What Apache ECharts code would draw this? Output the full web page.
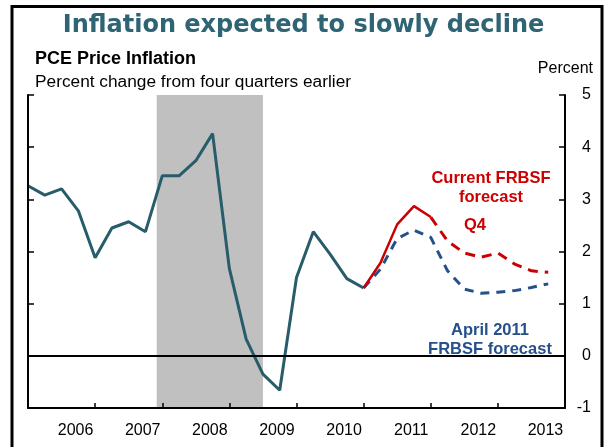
<!DOCTYPE html>
<html>
<head>
<meta charset="utf-8">
<title>Inflation expected to slowly decline</title>
<script src="https://cdn.jsdelivr.net/npm/echarts@6/dist/echarts.min.js"></script>
<style>
  html, body { margin: 0; padding: 0; background: #fff; }
  #chart { width: 607px; height: 447px; }
</style>
</head>
<body>
<div id="chart"></div>
<script>
// quarterly axis, 2005Q4 .. 2013Q4
const quarters = []
for (let y = 2005; y <= 2013; y++) {
  for (let q = 1; q <= 4; q++) {
    if (y === 2005 && q < 4) continue
    quarters.push(y + 'Q' + q)
  }
}
const years = ['2006', '2007', '2008', '2009', '2010', '2011', '2012', '2013']

// PCE price inflation, percent change from four quarters earlier
const historyStart = '2005Q4'
const history = [3.26, 3.08, 3.20, 2.78, 1.88, 2.45, 2.57, 2.38, 3.45, 3.45, 3.74, 4.26,
  1.67, 0.32, -0.35, -0.66, 1.50, 2.38, 1.95, 1.48, 1.30]

// current FRBSF forecast (solid part, then dashed part)
const currentSolidStart = '2010Q4'
const currentSolid = [1.30, 1.78, 2.52, 2.87, 2.66]
const currentDashStart = '2011Q4'
const currentDash = [2.66, 2.20, 1.97, 1.89, 1.97, 1.76, 1.63, 1.60]

// April 2011 FRBSF forecast
const aprilStart = '2010Q4'
const april = [1.30, 1.66, 2.25, 2.41, 2.27, 1.63, 1.28, 1.20, 1.22, 1.25, 1.31, 1.38]

// recession shading, in quarter-index units
const recession = [7.67, 14.0]

function toPairs (start, vals) {
  const i0 = quarters.indexOf(start)
  return vals.map((v, i) => [i0 + i, v])
}

const chart = echarts.init(document.getElementById('chart'))

const axisBlack = { show: true, onZero: false, lineStyle: { color: '#000', width: 2 } }

chart.setOption({
  animation: false,
  backgroundColor: '#fff',
  title: {
    text: 'Inflation expected to slowly decline',
    left: 'center',
    top: 9,
    textStyle: {
      fontFamily: 'DejaVu Sans',
      fontWeight: 'bold',
      fontSize: 24,
      color: '#2E6474'
    }
  },
  grid: { left: 28, right: 42, top: 95, bottom: 39, containLabel: false },
  xAxis: [{
    type: 'value',
    min: 0,
    max: quarters.length - 1,
    interval: 4,
    z: 5,
    axisLine: axisBlack,
    axisTick: { show: true, inside: true, length: 5, lineStyle: { color: '#000', width: 1.5 } },
    axisLabel: { show: false },
    splitLine: { show: false }
  }, {
    type: 'category',
    data: years,
    boundaryGap: true,
    position: 'bottom',
    axisLine: { show: false },
    axisTick: { show: false },
    axisLabel: {
      color: '#000',
      fontFamily: 'Liberation Sans',
      fontSize: 16,
      margin: 15,
      padding: [0, 0, 0, 28]
    },
    splitLine: { show: false }
  }],
  yAxis: [{
    type: 'value',
    min: -1,
    max: 5,
    interval: 1,
    position: 'left',
    z: 5,
    axisLine: axisBlack,
    axisTick: { show: true, inside: true, length: 6, lineStyle: { color: '#000', width: 1.5 } },
    axisLabel: { show: false },
    splitLine: { show: false }
  }, {
    type: 'value',
    min: -1,
    max: 5,
    interval: 1,
    position: 'right',
    z: 5,
    axisLine: axisBlack,
    axisTick: { show: true, inside: true, length: 6, lineStyle: { color: '#000', width: 1.5 } },
    axisLabel: {
      color: '#000',
      fontFamily: 'Liberation Sans',
      fontSize: 16,
      align: 'right',
      margin: 26
    },
    splitLine: { show: false }
  }],
  graphic: [
    {
      type: 'rect',
      shape: { x: 12, y: 6.5, width: 590, height: 460 },
      style: { fill: 'none', stroke: '#000', lineWidth: 3 },
      silent: true
    },
    {
      type: 'text', left: 35, top: 50,
      style: { text: 'PCE Price Inflation', font: 'bold 18px "Liberation Sans"', fill: '#000' }
    },
    {
      type: 'text', left: 35, top: 74,
      style: { text: 'Percent change from four quarters earlier', font: '17.3px "Liberation Sans"', fill: '#000' }
    },
    {
      type: 'text', right: 14, top: 61,
      style: { text: 'Percent', font: '16px "Liberation Sans"', fill: '#000' }
    },
    {
      type: 'text', x: 491, y: 188,
      style: {
        text: 'Current FRBSF\nforecast',
        font: 'bold 16.5px "Liberation Sans"',
        fill: '#CC0000',
        align: 'center',
        verticalAlign: 'middle',
        lineHeight: 19
      }
    },
    {
      type: 'text', x: 475, y: 225,
      style: { text: 'Q4', font: 'bold 16.5px "Liberation Sans"', fill: '#CC0000', align: 'center', verticalAlign: 'middle' }
    },
    {
      type: 'text', x: 490, y: 340,
      style: {
        text: 'April 2011\nFRBSF forecast',
        font: 'bold 16.5px "Liberation Sans"',
        fill: '#26508C',
        align: 'center',
        verticalAlign: 'middle',
        lineHeight: 19
      }
    }
  ],
  series: [
    {
      // recession shading
      type: 'line',
      data: [],
      z: 1,
      markArea: {
        silent: true,
        itemStyle: { color: '#C0C0C0' },
        data: [[{ xAxis: recession[0] }, { xAxis: recession[1] }]]
      }
    },
    {
      // zero line
      type: 'line',
      data: [],
      z: 2,
      markLine: {
        silent: true,
        symbol: 'none',
        label: { show: false },
        lineStyle: { color: '#000', width: 2, type: 'solid' },
        data: [{ yAxis: 0 }]
      }
    },
    {
      name: 'PCE inflation',
      type: 'line',
      z: 3,
      data: toPairs(historyStart, history),
      showSymbol: false,
      lineStyle: { color: '#275C6B', width: 3 },
      itemStyle: { color: '#275C6B' }
    },
    {
      name: 'April 2011 FRBSF forecast',
      type: 'line',
      z: 3,
      data: toPairs(aprilStart, april),
      showSymbol: false,
      lineStyle: { color: '#26508C', width: 3, type: [9, 7] },
      itemStyle: { color: '#26508C' }
    },
    {
      name: 'Current FRBSF forecast',
      type: 'line',
      z: 4,
      data: toPairs(currentSolidStart, currentSolid),
      showSymbol: false,
      lineStyle: { color: '#CC0000', width: 2.5 },
      itemStyle: { color: '#CC0000' }
    },
    {
      name: 'Current FRBSF forecast (dashed)',
      type: 'line',
      z: 4,
      data: toPairs(currentDashStart, currentDash),
      showSymbol: false,
      lineStyle: { color: '#CC0000', width: 3, type: [10, 7] },
      itemStyle: { color: '#CC0000' }
    }
  ]
})
</script>
</body>
</html>
